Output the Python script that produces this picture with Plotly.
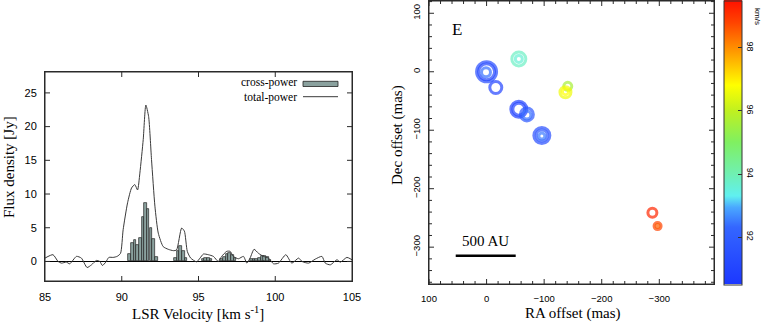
import plotly.graph_objects as go

# ---------------- Data: spectrum ----------------
tp_vel = [85.0, 85.52, 85.85, 86.07, 86.39, 86.61, 87.05, 87.37, 87.74, 88.03, 88.35, 88.57,
          88.74, 88.96, 89.16, 89.44, 89.70, 89.92, 90.09, 90.38, 90.64, 90.85, 91.03, 91.18,
          91.40, 91.57, 91.75, 91.94, 92.16, 92.38, 92.70, 93.03, 93.36, 93.57, 93.90, 94.08,
          94.27, 94.49, 94.88, 95.10, 95.32, 95.64, 95.97, 96.29, 96.51, 96.84, 97.06, 97.27,
          97.60, 97.93, 98.15, 98.36, 98.62, 98.91, 99.23, 99.56, 99.89, 100.21, 100.69,
          101.08, 101.52, 101.74, 102.17, 102.61, 103.04, 103.26, 103.59, 104.02, 104.24,
          104.67, 105.0]
tp_flux = [0.5, 1.0, 0.0, -0.25, -0.1, -0.35, 0.75, 0.5, -0.9, -0.5, 0.15, 0.0,
           -0.6, -0.1, 0.6, 0.6, 0.75, 1.2, 4.7, 8.7, 10.9, 11.4, 10.6, 13.1,
           18.1, 23.2, 21.5, 15.1, 8.2, 4.2, 2.2, 1.8, 1.6, 1.7, 4.95, 4.5,
           1.5, 0.5, -0.05, 0.5, 1.1, 1.0, 0.75, 0.0, 0.75, 1.5, 1.5, 0.75,
           0.4, 0.75, -0.25, 0.5, 1.8, 1.2, 0.75, 0.5, -0.35, -0.25, 1.0,
           -0.25, 0.5, 0.0, -0.25, 0.35, 0.75, -0.25, -0.5, 0.25, -0.1,
           0.6, 0.25]

cp_vel = [90.51, 90.68, 90.86, 91.03, 91.20, 91.38, 91.55, 91.72, 91.90, 92.07, 92.25,
          93.49, 93.66, 93.84, 94.01, 94.18,
          95.29, 95.47, 95.64, 95.82,
          96.51, 96.68, 96.86, 97.03, 97.20, 97.38,
          98.45, 98.62, 98.80, 98.97, 99.15, 99.32, 99.49, 99.66]
cp_flux = [1.1, 2.7, 3.2, 2.4, 3.5, 6.6, 8.6, 7.8, 4.9, 3.3, 0.6,
           0.5, 1.5, 2.3, 1.5, 0.5,
           0.3, 0.5, 0.5, 0.3,
           0.3, 0.7, 1.1, 1.3, 0.9, 0.5,
           0.3, 0.3, 0.4, 0.5, 0.8, 0.8, 0.6, 0.2]
channel_width = 0.174

spec_xticks = [85, 90, 95, 100, 105]
spec_yticks = [0, 5, 10, 15, 20, 25]

# ---------------- Data: maser spots ----------------
spot_ra = [0, 0, 1, -16, -56, -56, -56, -56, -70, -70, -96, -96, -96,
           -141, -137, -137, -288, -297, -297]
spot_dec = [0, 0, -1, -27, 22, 22, -64, -64, -73, -74, -109, -109, -110,
            -25, -35, -34, -241, -264, -264]
spot_vel = [91.3, 91.1, 92.4, 91.0, 93.8, 93.6, 90.9, 91.0, 91.8, 92.4, 91.4, 91.7, 92.5,
            95.6, 96.6, 96.8, 99.2, 98.8, 98.5]
spot_size = [20, 16, 9, 12, 14, 7, 16, 12, 13, 8, 16, 11, 6,
             8, 11, 6, 9, 7, 3]

map_major = [100, 0, -100, -200, -300]
map_major_text = ["100", "0", "−100", "−200", "−300"]
map_minor_x = [v for v in range(80, -400, -20) if v % 100 != 0]
map_minor_y = [v for v in range(120, -370, -20) if v % 100 != 0]

cb_major = [92, 94, 96, 98]
cb_minor = [91, 93, 95, 97, 99]
cb_min, cb_max = 90.5, 99.5

colorscale = [
    [0.00, "#1c38ff"],
    [0.20, "#3466ff"],
    [0.27, "#4aa8ff"],
    [0.31, "#60f0f0"],
    [0.39, "#70f0b0"],
    [0.50, "#80f060"],
    [0.61, "#c0f020"],
    [0.70, "#ffff00"],
    [0.82, "#ff9800"],
    [0.92, "#ff4400"],
    [1.00, "#ff1000"],
]

W, H = 763, 325
def px(x):
    return x / W
def py(y):
    return 1 - y / H

# subplot pixel boxes
L1, R1, T1, B1 = 45, 352, 72, 281
L2, R2, T2, B2 = 429, 714, 1, 284
CB_X0, CB_X1, CB_TOP, CB_BOT = 724, 742, 0.5, 284.5

SX_RANGE = [85, 105]
SY_RANGE = [-2.9, 28.1]
MX_RANGE = [100, -395]
MY_RANGE = [-363, 121]

def lin(v, r, a, b):
    return a + (v - r[0]) / (r[1] - r[0]) * (b - a)

bar_fill = "#8aa19e"
line_col = "#3a3a3a"
frame_col = "#2a2a2a"
serif = "Liberation Serif"
sans = "Liberation Sans"

fig = go.Figure()

fig.add_trace(go.Bar(
    x=cp_vel, y=cp_flux, width=channel_width,
    marker=dict(color=bar_fill, line=dict(color="#222", width=0.7)),
    xaxis="x", yaxis="y", showlegend=False, hoverinfo="skip",
))
fig.add_trace(go.Scatter(
    x=tp_vel, y=tp_flux, mode="lines",
    line=dict(color=line_col, width=1, shape="spline", smoothing=0.6),
    xaxis="x", yaxis="y", showlegend=False, hoverinfo="skip",
))

fig.add_trace(go.Scatter(
    x=spot_ra, y=spot_dec, mode="markers",
    marker=dict(
        symbol="circle-open", size=spot_size, color=spot_vel,
        colorscale=colorscale, cmin=cb_min, cmax=cb_max,
        line=dict(width=3),
        colorbar=dict(
            x=px(CB_X0), xanchor="left", y=py(CB_TOP), yanchor="top",
            thickness=CB_X1 - CB_X0, thicknessmode="pixels",
            len=CB_BOT - CB_TOP, lenmode="pixels",
            outlinecolor="#333", outlinewidth=1,
            tickvals=cb_major, ticktext=[str(v) for v in cb_major],
            ticks="inside", ticklen=4, tickcolor="#333",
            tickangle=90,
            tickfont=dict(family=sans, size=9, color="black"),
            xpad=0, ypad=0,
        ),
    ),
    xaxis="x2", yaxis="y2", showlegend=False, hoverinfo="skip",
))

# ---- frames and ticks drawn as line traces through each subplot's own axes ----
def frame_and_ticks(xr, yr, xt_major, yt_major, xt_minor, yt_minor, wpx, hpx, xa, ya):
    xs, ys = [], []
    # frame
    xs += [xr[0], xr[1], xr[1], xr[0], xr[0], None]
    ys += [yr[0], yr[0], yr[1], yr[1], yr[0], None]
    dx_per_px = (xr[1] - xr[0]) / wpx
    dy_per_px = (yr[1] - yr[0]) / hpx
    for vals, ln in ((xt_major, 5), (xt_minor, 3)):
        for v in vals:
            xs += [v, v, None, v, v, None]
            ys += [yr[0], yr[0] + ln * dy_per_px, None, yr[1], yr[1] - ln * dy_per_px, None]
    for vals, ln in ((yt_major, 5), (yt_minor, 3)):
        for v in vals:
            xs += [xr[0], xr[0] + ln * dx_per_px, None, xr[1], xr[1] - ln * dx_per_px, None]
            ys += [v, v, None, v, v, None]
    return go.Scatter(x=xs, y=ys, mode="lines", line=dict(color=frame_col, width=1),
                      cliponaxis=False, connectgaps=False, hoverinfo="skip",
                      showlegend=False, xaxis=xa, yaxis=ya)

fig.add_trace(frame_and_ticks(SX_RANGE, SY_RANGE, spec_xticks[1:-1], spec_yticks, [], [],
                              R1 - L1, B1 - T1, "x", "y"))
fig.add_trace(frame_and_ticks(MX_RANGE, MY_RANGE, map_major, map_major, map_minor_x, map_minor_y,
                              R2 - L2, B2 - T2, "x2", "y2"))

axis_common = dict(showline=True, linecolor=frame_col, linewidth=1, mirror=True,
                   ticks="", showgrid=False, automargin=False)

fig.update_layout(
    template="none",
    width=W, height=H,
    margin=dict(l=0, r=0, t=0, b=0, autoexpand=False),
    paper_bgcolor="white", plot_bgcolor="rgba(0,0,0,0)",
    bargap=0,
    hovermode=False,
    xaxis=dict(domain=[px(L1), px(R1)], range=SX_RANGE, tickvals=spec_xticks,
               zeroline=False, ticklabelstandoff=6,
               tickfont=dict(family=sans, size=11, color="black"), anchor="y", **axis_common),
    yaxis=dict(domain=[py(B1), py(T1)], range=SY_RANGE, tickvals=spec_yticks,
               zeroline=True, zerolinecolor="black", zerolinewidth=1, ticklabelstandoff=5,
               tickfont=dict(family=sans, size=11, color="black"), anchor="x", **axis_common),
    xaxis2=dict(domain=[px(L2), px(R2)], range=MX_RANGE,
                tickvals=map_major, ticktext=map_major_text, zeroline=False, ticklabelstandoff=6,
                tickfont=dict(family=sans, size=9.5, color="black"), anchor="y2", **axis_common),
    yaxis2=dict(domain=[py(B2), py(T2)], range=MY_RANGE,
                tickvals=map_major, ticktext=map_major_text, zeroline=False, tickangle=-90,
                ticklabelstandoff=4,
                tickfont=dict(family=sans, size=9.5, color="black"), anchor="x2", **axis_common),
)

annotations = [
    dict(text="Flux density [Jy]", x=px(9), y=py(167), xref="paper", yref="paper",
         xanchor="center", yanchor="middle",
         textangle=-90, showarrow=False, font=dict(family=serif, size=15, color="black")),
    dict(text="LSR Velocity [km s<sup>-1</sup>]", x=px(198), y=py(313), xref="paper", yref="paper",
         xanchor="center", yanchor="middle",
         showarrow=False, font=dict(family=serif, size=15, color="black")),
    dict(text="cross-power", x=px(298), y=py(83), xref="paper", yref="paper", xanchor="right",
         yanchor="middle", borderpad=0, showarrow=False, font=dict(family=serif, size=11.5, color="black")),
    dict(text="total-power", x=px(298), y=py(97), xref="paper", yref="paper", xanchor="right",
         yanchor="middle", borderpad=0, showarrow=False, font=dict(family=serif, size=11.5, color="black")),
    dict(text="Dec offset (mas)", x=px(397), y=py(135), xref="paper", yref="paper",
         xanchor="center", yanchor="middle",
         textangle=-90, showarrow=False, font=dict(family=serif, size=15, color="black")),
    dict(text="RA offset (mas)", x=px(573), y=py(313), xref="paper", yref="paper",
         xanchor="center", yanchor="middle",
         showarrow=False, font=dict(family=serif, size=15, color="black")),
    dict(text="E", x=52, y=72, xref="x2", yref="y2", xanchor="center", yanchor="middle",
         showarrow=False, font=dict(family=serif, size=17, color="black")),
    dict(text="500 AU", x=2, y=-290, xref="x2", yref="y2", xanchor="center", yanchor="middle",
         showarrow=False, font=dict(family=serif, size=15, color="black")),
    dict(text="km/s", x=px(757), y=py(16), xref="paper", yref="paper", textangle=90,
         xanchor="center", yanchor="middle",
         showarrow=False, font=dict(family=sans, size=8, color="black")),
]
fig.update_layout(annotations=annotations)

def seg(x0, y0, x1, y1, color=frame_col, width=1):
    return dict(type="line", xref="paper", yref="paper",
                x0=px(x0), x1=px(x1), y0=py(y0), y1=py(y1),
                line=dict(color=color, width=width), layer="above")

shapes = []
# legend swatches
shapes.append(dict(type="rect", xref="paper", yref="paper", x0=px(303), x1=px(338),
                   y0=py(86.5), y1=py(81.3), fillcolor=bar_fill, line=dict(color="#222", width=0.8)))
shapes.append(seg(303, 96.7, 338, 96.7, color=line_col, width=1))
# 500 AU scale bar
shapes.append(dict(type="line", xref="x2", yref="y2", x0=53.6, x1=-50.6, y0=-314.6, y1=-314.6,
                   line=dict(color="black", width=2.5)))
# colorbar ticks
for v in cb_minor + cb_major:
    ln = 2.5 if v in cb_minor else 3.5
    y = lin(v, [cb_min, cb_max], CB_BOT, CB_TOP)
    shapes.append(seg(CB_X0, y, CB_X0 + ln, y, color="#333", width=1))
    if v in cb_minor:
        shapes.append(seg(CB_X1 - ln, y, CB_X1, y, color="#333", width=1))

fig.update_layout(shapes=shapes)

fig.write_html("out.html", config={"displayModeBar": False},
               post_script="document.body.style.margin='0';")
